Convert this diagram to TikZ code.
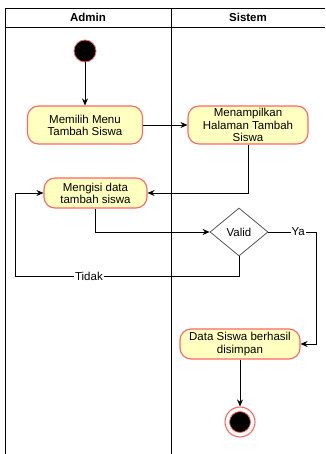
\documentclass[tikz,border=0pt]{standalone}
\usepackage{fontspec}
\setmainfont{Liberation Sans}
\usetikzlibrary{shapes.geometric,arrows.meta}
\definecolor{actfill}{HTML}{FFFFC0}
\definecolor{actline}{HTML}{FF6666}
\definecolor{decline}{HTML}{555555}
\tikzstyle{every node}=[font=\fontsize{11.5}{12.2}\selectfont]
\tikzstyle{every path}=[line width=0.8pt]
\tikzstyle{activity}=[draw=actline,fill=actfill,line width=1.1pt,rounded corners=11pt,align=center,inner sep=0pt]
\tikzstyle{decision}=[diamond,draw=decline,aspect=1.2,minimum width=58pt,minimum height=48pt,inner sep=0pt]
\tikzstyle{startnode}=[circle,draw=actline,fill=black,minimum size=22pt,inner sep=0pt]
\tikzstyle{flow}=[-{Stealth[length=7pt,width=6pt]}]
\tikzstyle{guard}=[fill=white,inner sep=1pt]

\begin{document}
\begin{tikzpicture}[x=1pt,y=-1pt]
	\useasboundingbox (0,0) rectangle (325,454);
%Swimlanes
	\draw (5,454) -- (5,8) -- (325,8); %% frame of the lanes
	\draw (5,27) -- (325,27); %% bottom of the header row
	\draw (171,8) -- (171,454); %% divider between Admin and Sistem
	\node[font=\fontsize{11.5}{12.2}\selectfont\bfseries] (admin) at (88,17.5) {Admin};
	\node[font=\fontsize{11.5}{12.2}\selectfont\bfseries] (sistem) at (248,17.5) {Sistem};
%Activities
	\node[startnode] (start) at (85,51) {};
	\node[activity,minimum width=115pt,minimum height=38pt] (pilih) at (85,125) {Memilih Menu\\Tambah Siswa};
	\node[activity,minimum width=120pt,minimum height=38pt] (tampil) at (248,125) {Menampilkan\\Halaman Tambah\\Siswa};
	\node[activity,minimum width=103pt,minimum height=30pt] (isi) at (95.5,193) {Mengisi data\\tambah siswa};
	\node[decision] (valid) at (239,232) {Valid};
	\node[activity,minimum width=120pt,minimum height=30pt] (simpan) at (240,344) {Data Siswa berhasil\\disimpan};
	\node[circle,draw=actline,fill=white,line width=1.1pt,minimum size=30pt,inner sep=0pt] (end) at (240,422) {};
	\node[circle,draw=actline,fill=black,minimum size=21pt,inner sep=0pt] (endin) at (end) {};
%Flows
	\draw[flow] (start) -- (pilih);
	\draw[flow] (pilih) -- (tampil);
	\draw[flow] (tampil.south) |- (isi.east);
	\draw[flow] (isi.south) |- (valid.west);
	\draw[flow] (valid.east) -- node[guard,pos=0.62]{Ya} ++(48,0) coordinate (yaT) |- (simpan.east); %% yaT is the corner right of the lane
	\draw[flow] (valid.south) -- ++(0,20) -- node[guard,pos=0.67]{Tidak} ++(-224,0) coordinate (tidakB) |- (isi.west); %% tidakB is the bottom left corner of the loop
	\draw[flow] (simpan) -- (end);
\end{tikzpicture}
\end{document}
